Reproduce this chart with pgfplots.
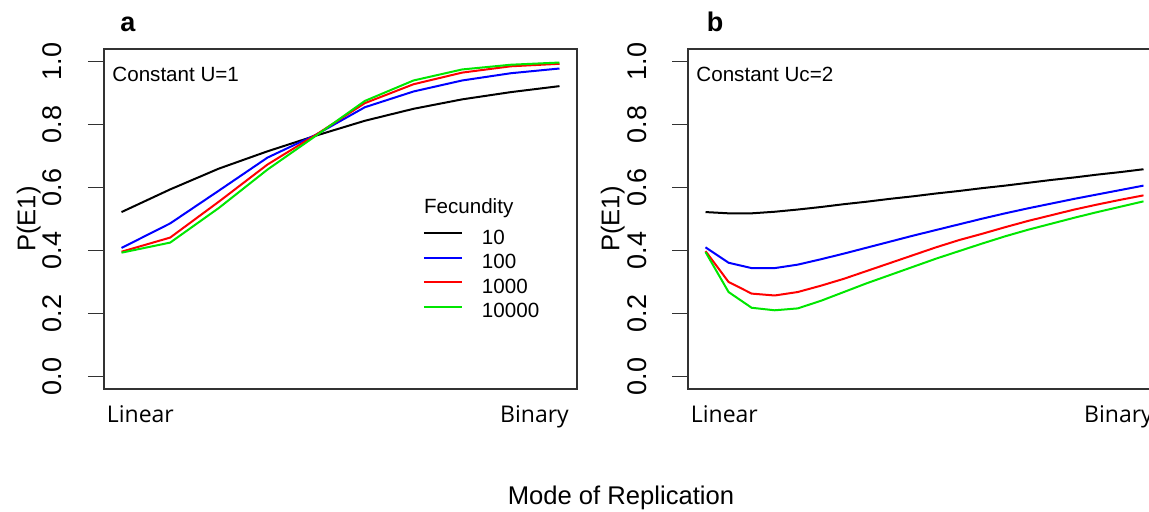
\documentclass[border=0pt]{standalone}
\usepackage{pgfplots}
\pgfplotsset{compat=1.18}
\usepackage{pgfplotstable}
\usepackage{fontspec}
\setmainfont{Liberation Sans}
\newfontfamily\osans{Open Sans}
\definecolor{rgreen}{RGB}{0,230,0}
\definecolor{boxgray}{RGB}{50,50,50}

\pgfplotstableread{
x      f10    f100   f1000  f10000
0.0000 0.522  0.408  0.396  0.393
0.1111 0.594  0.486  0.441  0.425
0.2222 0.660  0.590  0.555  0.535
0.3333 0.715  0.695  0.673  0.657
0.4444 0.765  0.768  0.768  0.765
0.5556 0.812  0.855  0.868  0.875
0.6667 0.850  0.905  0.928  0.940
0.7778 0.880  0.940  0.965  0.975
0.8889 0.903  0.963  0.985  0.990
1.0000 0.922  0.978  0.993  0.997
}\tableA

\pgfplotstableread{
x      f10    f100   f1000  f10000
0.0000 0.522  0.410  0.398  0.395
0.0526 0.518  0.361  0.300  0.268
0.1053 0.518  0.344  0.263  0.218
0.1579 0.523  0.344  0.257  0.210
0.2105 0.530  0.355  0.268  0.216
0.2632 0.538  0.372  0.288  0.240
0.3158 0.547  0.390  0.310  0.268
0.3684 0.555  0.409  0.335  0.296
0.4211 0.564  0.428  0.360  0.322
0.4737 0.572  0.447  0.385  0.348
0.5263 0.581  0.465  0.410  0.374
0.5789 0.589  0.483  0.433  0.398
0.6316 0.598  0.501  0.453  0.422
0.6842 0.606  0.518  0.474  0.445
0.7368 0.615  0.534  0.494  0.466
0.7895 0.624  0.549  0.512  0.485
0.8421 0.632  0.564  0.530  0.504
0.8947 0.641  0.578  0.546  0.522
0.9474 0.649  0.592  0.561  0.539
1.0000 0.658  0.606  0.575  0.556
}\tableB

\pgfplotsset{
  rpanel/.style={
    scale only axis,
    width=236.5pt, height=170pt,
    anchor=south west,
    xmin=-0.04, xmax=1.04,
    ymin=-0.04, ymax=1.04,
    axis line style={boxgray, line width=0.9pt},
    xtick={0.043,0.943},
    xticklabels={Linear,Binary},
    xtick style={draw=none},
    xticklabel style={font=\osans\fontsize{11.5}{13}\selectfont, anchor=base, yshift=-9pt},
    ytick={0,0.2,0.4,0.6,0.8,1.0},
    yticklabels={0.0,0.2,0.4,0.6,0.8,1.0},
    ytick pos=left,
    tick align=outside,
    major tick length=8pt,
    ytick style={boxgray, line width=0.8pt},
    yticklabel style={font=\fontsize{13.5}{15}\selectfont, xshift=-13pt, rotate=90, anchor=base},
    ylabel={P(E1)},
    every axis y label/.style={at={(axis description cs:-0.159,0.5)}, rotate=90, anchor=center, font=\fontsize{12.8}{14}\selectfont},
    every axis plot/.append style={line width=1pt},
    clip=true,
  }
}

\begin{document}
\begin{tikzpicture}
\begin{axis}[rpanel, at={(52pt,61.5pt)},
  legend style={at={(axis description cs:0.6744,0.475)}, anchor=north west, draw=none, fill=none,
    inner sep=0pt, outer sep=0pt, row sep=0pt,
    font=\fontsize{10.3}{12}\selectfont,
    nodes={inner sep=0pt, text height=8.3pt, text depth=4pt},
    /tikz/every odd column/.append style={column sep=9.5pt}},
  legend cell align=left,
  legend image code/.code={\draw[#1, line width=1pt] (0pt,3.4pt) -- (19pt,3.4pt);},
]
\addplot[black, no markers] table[x=x, y=f10] {\tableA};
\addplot[blue, no markers] table[x=x, y=f100] {\tableA};
\addplot[red, no markers] table[x=x, y=f1000] {\tableA};
\addplot[rgreen, no markers] table[x=x, y=f10000] {\tableA};
\legend{10,100,1000,10000}
\node[anchor=base west, inner sep=0pt, font=\fontsize{10.3}{12}\selectfont] at (axis description cs:0.017,0.903) {Constant U=1};
\node[anchor=base, font=\fontsize{10.3}{12}\selectfont] at (axis description cs:0.771,0.5176) {Fecundity};
\end{axis}
\begin{axis}[rpanel, at={(344pt,61.5pt)}]
\addplot[black, no markers] table[x=x, y=f10] {\tableB};
\addplot[blue, no markers] table[x=x, y=f100] {\tableB};
\addplot[red, no markers] table[x=x, y=f1000] {\tableB};
\addplot[rgreen, no markers] table[x=x, y=f10000] {\tableB};
\node[anchor=base west, inner sep=0pt, font=\fontsize{10.3}{12}\selectfont] at (axis description cs:0.017,0.903) {Constant Uc=2};
\end{axis}
\node[anchor=base, font=\bfseries\fontsize{13.5}{15}\selectfont] at (64pt,240pt) {a};
\node[anchor=base, font=\bfseries\fontsize{13.5}{15}\selectfont] at (357.5pt,240pt) {b};
\node[anchor=base, font=\fontsize{12.8}{15}\selectfont] at (310.5pt,3.5pt) {Mode of Replication};
\pgfresetboundingbox
\useasboundingbox (0,0) rectangle (574.5pt,256pt);
\end{tikzpicture}
\end{document}
